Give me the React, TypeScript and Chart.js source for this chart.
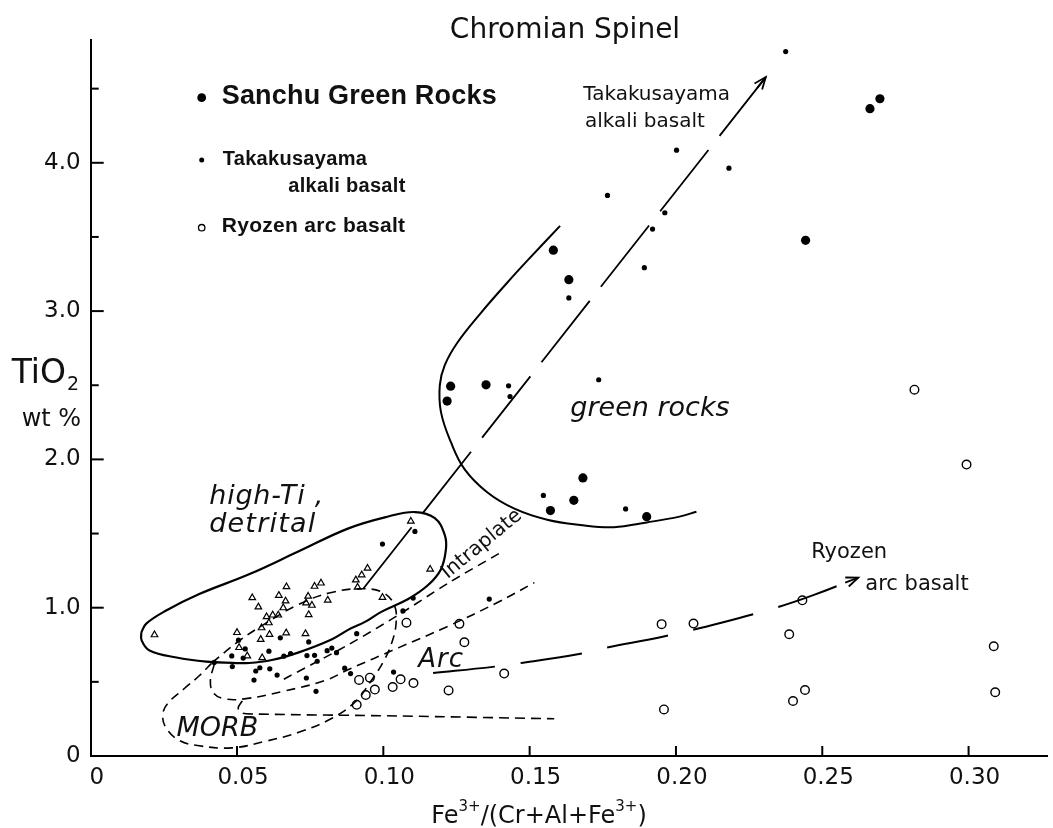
import React, { useEffect, useRef } from 'react';
import { Chart, registerables } from 'chart.js';

Chart.register(...registerables);

// ---------- axes ----------
const xTickValues = [0, 0.05, 0.1, 0.15, 0.2, 0.25, 0.3];
const xTickLabels = ['0', '0.05', '0.10', '0.15', '0.20', '0.25', '0.30'];
const yTickValues = [0, 1, 2, 3, 4];
const yTickLabels = ['0', '1.0', '2.0', '3.0', '4.0'];
const yMinorTicks = [0.5, 1.5, 2.5, 3.5, 4.5];
const xRange = [0, 0.3269];
const yRange = [0, 4.828];

// ---------- point series [Fe3+ ratio, TiO2 wt%] ----------
const sanchuGreenRocks = [
  [0.2663, 4.365], [0.2697, 4.432], [0.2443, 3.477], [0.1581, 3.411], [0.1634, 3.212],
  [0.123, 2.494], [0.1218, 2.393], [0.1351, 2.503], [0.1682, 1.875], [0.1651, 1.724],
  [0.1571, 1.655], [0.19, 1.614],
];

const takakusayamaAlkaliBasalt = [
  [0.2375, 4.75], [0.2002, 4.085], [0.2181, 3.964], [0.1766, 3.78], [0.1962, 3.663],
  [0.192, 3.553], [0.1892, 3.293], [0.1634, 3.089], [0.1428, 2.496], [0.1433, 2.424],
  [0.1736, 2.537], [0.1547, 1.757], [0.1828, 1.666],
  [0.0422, 0.631], [0.0482, 0.675], [0.0484, 0.603], [0.0505, 0.781], [0.0528, 0.722],
  [0.0564, 0.573], [0.0578, 0.595], [0.0558, 0.512], [0.0609, 0.707], [0.0612, 0.588],
  [0.0637, 0.546], [0.066, 0.673], [0.0683, 0.691], [0.0648, 0.797], [0.0745, 0.769],
  [0.0739, 0.677], [0.0765, 0.679], [0.0774, 0.639], [0.0808, 0.71], [0.0824, 0.728],
  [0.084, 0.697], [0.0737, 0.526], [0.077, 0.436], [0.0868, 0.592], [0.0888, 0.556],
  [0.1035, 0.566], [0.0909, 0.825], [0.0997, 1.429], [0.1108, 1.514], [0.1102, 1.065],
  [0.1067, 0.978], [0.1362, 1.058], [0.0521, 0.66],
];

const ryozenArcBasalt = [
  [0.0917, 0.513], [0.0954, 0.528], [0.0971, 0.448], [0.094, 0.411], [0.0909, 0.345],
  [0.1032, 0.465], [0.1059, 0.517], [0.1103, 0.492], [0.1079, 0.899], [0.126, 0.891],
  [0.1277, 0.767], [0.1223, 0.442], [0.1413, 0.556], [0.1951, 0.889], [0.206, 0.893],
  [0.1959, 0.314], [0.2387, 0.821], [0.2432, 1.05], [0.2441, 0.445], [0.24, 0.371],
  [0.2815, 2.47], [0.2993, 1.965], [0.3086, 0.74], [0.3091, 0.43],
];

const highTiDetrital = [
  [0.0218, 0.817], [0.1094, 1.583], [0.116, 1.259], [0.0906, 1.187], [0.0926, 1.221],
  [0.0946, 1.266], [0.0912, 1.138], [0.0997, 1.069], [0.0552, 1.067], [0.0573, 1.005],
  [0.0643, 1.083], [0.0669, 1.141], [0.0666, 1.045], [0.0658, 0.999], [0.0743, 1.077],
  [0.0736, 1.032], [0.0756, 1.016], [0.0745, 0.953], [0.0765, 1.144], [0.0787, 1.166],
  [0.081, 1.051], [0.0601, 0.939], [0.0622, 0.95], [0.0641, 0.95], [0.0609, 0.898],
  [0.0584, 0.864], [0.0611, 0.82], [0.05, 0.832], [0.0507, 0.731], [0.0581, 0.786],
  [0.0535, 0.675], [0.0668, 0.83], [0.0734, 0.825], [0.0586, 0.662],
];

// ---------- field boundaries and trends ----------
const highTiField = [
  [0.0173, 0.834], [0.019, 0.893], [0.0258, 0.981], [0.0371, 1.092], [0.0541, 1.225],
  [0.0711, 1.38], [0.0881, 1.535], [0.1017, 1.615], [0.1108, 1.645], [0.1176, 1.604],
  [0.121, 1.49], [0.1214, 1.395], [0.1197, 1.26], [0.1153, 1.153], [0.1085, 1.059],
  [0.0993, 0.972], [0.0939, 0.906], [0.0881, 0.852], [0.0823, 0.786], [0.0711, 0.699],
  [0.0619, 0.647], [0.0541, 0.627], [0.0483, 0.628], [0.0395, 0.636], [0.0293, 0.664],
  [0.0201, 0.712], [0.0174, 0.78], [0.0173, 0.834],
];

const greenRocksField = [
  [0.1604, 3.575], [0.1492, 3.34], [0.1424, 3.193], [0.1333, 2.987], [0.1254, 2.79],
  [0.121, 2.636], [0.1193, 2.501], [0.1197, 2.319], [0.1231, 2.116], [0.1278, 1.933],
  [0.1356, 1.777], [0.1448, 1.668], [0.156, 1.593], [0.1672, 1.558], [0.1788, 1.543],
  [0.19, 1.575], [0.2012, 1.614], [0.207, 1.647],
];

const morbField = [
  [0.0415, 0.629], [0.0507, 0.776], [0.0599, 0.896], [0.0711, 1.023], [0.0823, 1.103],
  [0.0935, 1.128], [0.1, 1.1], [0.1037, 1.02], [0.1044, 0.905], [0.103, 0.77],
  [0.1, 0.635], [0.0956, 0.501], [0.0905, 0.367], [0.0823, 0.253], [0.0711, 0.16],
  [0.0599, 0.1], [0.0483, 0.055], [0.0371, 0.069], [0.0303, 0.105], [0.0259, 0.185],
  [0.0246, 0.274], [0.0263, 0.354], [0.032, 0.455], [0.0371, 0.541], [0.0415, 0.629],
];

const arcUpperBoundary = [
  [0.0422, 0.616], [0.0409, 0.508], [0.0419, 0.427], [0.0456, 0.386], [0.0524, 0.385],
  [0.066, 0.437], [0.0802, 0.51], [0.0881, 0.583], [0.1051, 0.729], [0.1221, 0.875],
  [0.139, 1.035], [0.1516, 1.169],
];

const arcLowerBoundary = [
  [0.0518, 0.372], [0.0504, 0.325], [0.0514, 0.291], [0.0558, 0.283], [0.1051, 0.27],
  [0.1584, 0.251],
];

const intraplateBoundary = [
  [0.066, 0.518], [0.0881, 0.751], [0.1051, 0.95], [0.1221, 1.165], [0.1401, 1.372],
];

const takakusayamaTrend = [[0.0932, 1.129], [0.2307, 4.578]];

const ryozenTrend = [
  [0.117, 0.559], [0.1374, 0.601], [0.1458, 0.623], [0.1669, 0.688], [0.1757, 0.728],
  [0.1958, 0.806], [0.2155, 0.898], [0.2348, 1.004], [0.2467, 1.083], [0.2623, 1.203],
];

const pts = (a: number[][]) => a.map(([x, y]) => ({ x, y }));

const FONT = '"DejaVu Sans"';

function drawText(
  ctx: CanvasRenderingContext2D,
  s: string,
  x: number,
  y: number,
  font: string,
  align: CanvasTextAlign = 'left',
  spacing = 0
) {
  ctx.font = font;
  ctx.textAlign = align;
  ctx.textBaseline = 'alphabetic';
  (ctx as any).letterSpacing = spacing + 'px';
  ctx.fillText(s, x, y);
  (ctx as any).letterSpacing = '0px';
}

function drawArrow(ctx: CanvasRenderingContext2D, meta: any) {
  const d = meta.data;
  if (!d || d.length < 2) return;
  const p2 = d[d.length - 1];
  const p1 = d[d.length - 2];
  const ang = Math.atan2(p2.y - p1.y, p2.x - p1.x);
  const L = 13;
  ctx.beginPath();
  ctx.moveTo(p2.x - 14 * Math.cos(ang), p2.y - 14 * Math.sin(ang));
  ctx.lineTo(p2.x, p2.y);
  ctx.stroke();
  ctx.beginPath();
  ctx.moveTo(p2.x - L * Math.cos(ang - 0.38), p2.y - L * Math.sin(ang - 0.38));
  ctx.lineTo(p2.x, p2.y);
  ctx.lineTo(p2.x - L * Math.cos(ang + 0.38), p2.y - L * Math.sin(ang + 0.38));
  ctx.stroke();
}

const annotationPlugin = {
  id: 'annotations',
  afterDatasetsDraw(chart: any) {
    const { ctx, chartArea, scales } = chart;
    const xs = scales.x;
    const ys = scales.y;
    const X = (v: number) => xs.getPixelForValue(v);
    const Y = (v: number) => ys.getPixelForValue(v);
    ctx.save();
    ctx.strokeStyle = '#000';
    ctx.fillStyle = '#111';
    ctx.lineCap = 'butt';

    // inward tick marks
    ctx.lineWidth = 2;
    xTickValues.forEach((v) => {
      if (v === 0) return;
      const px = X(v);
      ctx.beginPath();
      ctx.moveTo(px, chartArea.bottom);
      ctx.lineTo(px, chartArea.bottom - 10);
      ctx.stroke();
    });
    yTickValues.forEach((v) => {
      if (v === 0) return;
      const py = Y(v);
      ctx.beginPath();
      ctx.moveTo(chartArea.left, py);
      ctx.lineTo(chartArea.left + 13, py);
      ctx.stroke();
    });
    yMinorTicks.forEach((v) => {
      const py = Y(v);
      ctx.beginPath();
      ctx.moveTo(chartArea.left, py);
      ctx.lineTo(chartArea.left + 8, py);
      ctx.stroke();
    });

    // arrows at the ends of the trend lines
    ctx.lineWidth = 1.8;
    chart.data.datasets.forEach((ds: any, i: number) => {
      if (ds.label === 'takakusayamaTrend' || ds.label === 'ryozenTrend') {
        drawArrow(ctx, chart.getDatasetMeta(i));
      }
    });

    // title
    drawText(ctx, 'Chromian Spinel', 565, 38, `28px ${FONT}`, 'center');

    // legend
    ctx.fillStyle = '#000';
    ctx.beginPath();
    ctx.arc(201.7, 97.7, 4.4, 0, Math.PI * 2);
    ctx.fill();
    ctx.beginPath();
    ctx.arc(201.7, 160, 2.5, 0, Math.PI * 2);
    ctx.fill();
    ctx.lineWidth = 1.3;
    ctx.beginPath();
    ctx.arc(201.7, 227.7, 3.2, 0, Math.PI * 2);
    ctx.stroke();
    ctx.fillStyle = '#111';
    drawText(ctx, 'Sanchu Green Rocks', 221.7, 104, 'bold 27px "Liberation Sans"', 'left', 0.2);
    drawText(ctx, 'Takakusayama', 222.7, 165, 'bold 20px "Liberation Sans"', 'left', 0.3);
    drawText(ctx, 'alkali basalt', 288.3, 191.7, 'bold 20px "Liberation Sans"', 'left', 0.3);
    drawText(ctx, 'Ryozen arc basalt', 221.7, 232.3, 'bold 21px "Liberation Sans"', 'left', 0.3);

    // field labels (placed in data coordinates)
    const it = `italic 27px ${FONT}`;
    drawText(ctx, 'high-Ti ,', X(0.0405), Y(1.699), it, 'left', 0.8);
    drawText(ctx, 'detrital', X(0.0405), Y(1.508), it, 'left', 1.2);
    drawText(ctx, 'green rocks', X(0.1639), Y(2.29), it, 'left', 0);
    drawText(ctx, 'Arc', X(0.1119), Y(0.599), `italic 26px ${FONT}`, 'left', 1);
    drawText(ctx, 'MORB', X(0.0293), Y(0.138), it, 'left', 0);
    ctx.save();
    ctx.translate(X(0.1348), Y(1.401));
    ctx.rotate((-39.4 * Math.PI) / 180);
    drawText(ctx, 'Intraplate', 0, 0, `20px ${FONT}`, 'center');
    ctx.restore();
    drawText(ctx, 'Takakusayama', X(0.1934), Y(4.425), `20px ${FONT}`, 'center');
    drawText(ctx, 'alkali basalt', X(0.1894), Y(4.243), `20px ${FONT}`, 'center');
    drawText(ctx, 'Ryozen', X(0.2462), Y(1.332), `21px ${FONT}`, 'left');
    drawText(ctx, 'arc basalt', X(0.2647), Y(1.122), `21px ${FONT}`, 'left');

    // axis titles
    drawText(ctx, 'TiO', 11.7, 383.3, `33px ${FONT}`, 'left');
    ctx.font = `33px ${FONT}`;
    const wTiO = ctx.measureText('TiO').width;
    drawText(ctx, '2', 11.7 + wTiO + 1, 390, `19px ${FONT}`, 'left');
    drawText(ctx, 'wt %', 21.7, 426, `24px ${FONT}`, 'left');

    const big = `24px ${FONT}`;
    const small = `15px ${FONT}`;
    const parts: [string, string, number][] = [
      ['Fe', big, 823],
      ['3+', small, 811],
      ['/(Cr+Al+Fe', big, 823],
      ['3+', small, 811],
      [')', big, 823],
    ];
    let total = 0;
    parts.forEach(([s, f]) => {
      ctx.font = f;
      total += ctx.measureText(s).width;
    });
    let cx = 539 - total / 2;
    parts.forEach(([s, f, by]) => {
      drawText(ctx, s, cx, by, f, 'left');
      ctx.font = f;
      cx += ctx.measureText(s).width;
    });
    ctx.restore();
  },
};

export default function App() {
  const ref = useRef<HTMLCanvasElement>(null);

  useEffect(() => {
    const canvas = ref.current;
    if (!canvas) return;

    const lineDs = (label: string, data: number[][], dash: number[], width: number, tension = 0.4) => ({
      label,
      data: pts(data),
      showLine: true,
      borderColor: '#000',
      borderWidth: width,
      borderDash: dash,
      pointRadius: 0,
      pointHoverRadius: 0,
      fill: false,
      tension,
      backgroundColor: 'rgba(0,0,0,0)',
    });

    const chart = new Chart(canvas, {
      type: 'scatter',
      data: {
        datasets: [
          {
            label: 'Sanchu Green Rocks',
            data: pts(sanchuGreenRocks),
            pointRadius: 4.6,
            pointBackgroundColor: '#000',
            pointBorderColor: '#000',
            pointBorderWidth: 0,
          },
          {
            label: 'Takakusayama alkali basalt',
            data: pts(takakusayamaAlkaliBasalt),
            pointRadius: 2.6,
            pointBackgroundColor: '#000',
            pointBorderColor: '#000',
            pointBorderWidth: 0,
          },
          {
            label: 'Ryozen arc basalt',
            data: pts(ryozenArcBasalt),
            pointRadius: 4.3,
            pointBackgroundColor: 'rgba(0,0,0,0)',
            pointBorderColor: '#000',
            pointBorderWidth: 1.4,
          },
          {
            label: 'high-Ti detrital',
            data: pts(highTiDetrital),
            pointStyle: 'triangle',
            pointRadius: 3.8,
            pointBackgroundColor: 'rgba(0,0,0,0)',
            pointBorderColor: '#000',
            pointBorderWidth: 1.2,
          },
          lineDs('highTiField', highTiField, [], 2.2, 0.4),
          lineDs('greenRocksField', greenRocksField, [], 2, 0.4),
          lineDs('morbField', morbField, [9, 6], 1.6, 0.4),
          lineDs('arcUpperBoundary', arcUpperBoundary, [9, 6], 1.6, 0.4),
          lineDs('arcLowerBoundary', arcLowerBoundary, [10, 6], 1.6, 0.3),
          lineDs('intraplateBoundary', intraplateBoundary, [9, 6], 1.6, 0.3),
          lineDs('takakusayamaTrend', takakusayamaTrend, [78, 18], 1.8, 0),
          lineDs('ryozenTrend', ryozenTrend, [62, 26], 2, 0.4),
        ] as any,
      },
      options: {
        responsive: false,
        animation: false,
        devicePixelRatio: 1,
        events: [],
        layout: { padding: { top: 40, right: 0, bottom: 0, left: 0 } },
        plugins: {
          legend: { display: false },
          tooltip: { enabled: false },
          title: { display: false },
        },
        scales: {
          x: {
            type: 'linear',
            min: xRange[0],
            max: xRange[1],
            afterFit: (s: any) => {
              s.height = 72;
            },
            afterBuildTicks: (s: any) => {
              s.ticks = xTickValues.map((v) => ({ value: v }));
            },
            grid: { display: true, drawOnChartArea: false, drawTicks: false },
            border: { display: true, color: '#000', width: 2 },
            ticks: {
              autoSkip: false,
              maxRotation: 0,
              padding: 8,
              labelOffset: 6,
              color: '#111',
              font: { family: 'DejaVu Sans', size: 23 },
              callback: (_v: any, i: number) => xTickLabels[i],
            },
          },
          y: {
            type: 'linear',
            min: yRange[0],
            max: yRange[1],
            afterFit: (s: any) => {
              s.width = 90.7;
            },
            afterBuildTicks: (s: any) => {
              s.ticks = yTickValues.map((v) => ({ value: v }));
            },
            grid: { display: true, drawOnChartArea: false, drawTicks: false },
            border: { display: true, color: '#000', width: 2 },
            ticks: {
              autoSkip: false,
              padding: 10,
              color: '#111',
              font: { family: 'DejaVu Sans', size: 23 },
              callback: (_v: any, i: number) => yTickLabels[i],
            },
          },
        },
      } as any,
      plugins: [annotationPlugin],
    });

    return () => chart.destroy();
  }, []);

  return (
    <div
      style={{
        position: 'fixed',
        left: 0,
        top: 0,
        width: 1053,
        height: 828,
        background: '#fff',
      }}
    >
      <canvas ref={ref} width={1053} height={828} style={{ display: 'block' }} />
    </div>
  );
}
